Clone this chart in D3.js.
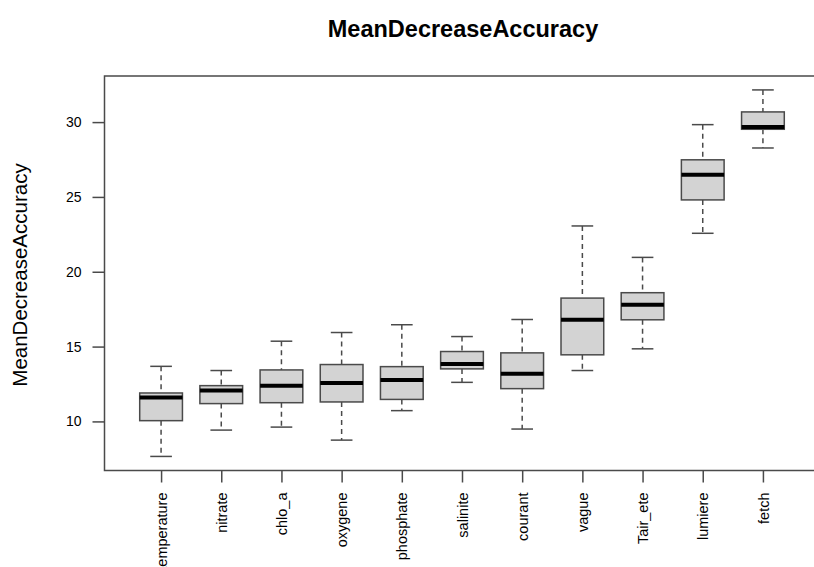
<!DOCTYPE html>
<html>
<head>
<meta charset="utf-8">
<script src="https://cdn.jsdelivr.net/npm/d3@7"></script>
<style>
  html, body { margin: 0; padding: 0; background: #fff; }
  svg { display: block; }
  text { font-family: "Liberation Sans", Arial, sans-serif; }
</style>
</head>
<body>
<svg id="chart" width="814" height="567"></svg>
<script>
const categories = ["temperature", "nitrate", "chlo_a", "oxygene", "phosphate", "salinite", "courant", "vague", "Tair_ete", "lumiere", "fetch"];
const whiskerLow  = [7.66, 9.42, 9.62, 8.75, 10.72, 12.61, 9.49, 13.40, 14.85, 22.57, 28.27];
const q1          = [10.05, 11.19, 11.25, 11.30, 11.47, 13.51, 12.19, 14.45, 16.79, 24.80, 29.52];
const medians     = [11.59, 12.06, 12.39, 12.57, 12.77, 13.84, 13.19, 16.79, 17.80, 26.48, 29.67];
const q3          = [11.90, 12.39, 13.44, 13.80, 13.66, 14.67, 14.58, 18.24, 18.60, 27.48, 30.68];
const whiskerHigh = [13.68, 13.40, 15.36, 15.94, 16.46, 15.67, 16.81, 23.06, 20.96, 29.83, 32.15];
const yTicks = [10, 15, 20, 25, 30];
const titleText = "MeanDecreaseAccuracy";
const yLabel = "MeanDecreaseAccuracy";

(function () {
const svg = d3.select("#chart");
const pL = 104.5, pR = 819.5, pT = 76, pB = 470.5;

const x = d3.scaleLinear().domain([0.06, categories.length + 0.94]).range([pL, pR]);
const y = d3.scaleLinear().domain([6.72, 33.08]).range([pB, pT]);

const boxHalf = 0.355, capHalf = 0.18;
const lineCol = "#4a4a4a";

const g = svg.append("g");

const data = categories.map((c, i) => ({
  c, i: i + 1, lo: whiskerLow[i], q1: q1[i], med: medians[i], q3: q3[i], hi: whiskerHigh[i]
}));

const box = g.selectAll("g.box").data(data).enter().append("g").attr("class", "box");

// whiskers (dashed)
box.append("line")
  .attr("x1", d => x(d.i)).attr("x2", d => x(d.i))
  .attr("y1", d => y(d.hi)).attr("y2", d => y(d.q3))
  .attr("stroke", lineCol).attr("stroke-width", 1.5).attr("stroke-dasharray", "5,4");
box.append("line")
  .attr("x1", d => x(d.i)).attr("x2", d => x(d.i))
  .attr("y1", d => y(d.q1)).attr("y2", d => y(d.lo))
  .attr("stroke", lineCol).attr("stroke-width", 1.5).attr("stroke-dasharray", "5,4");
// caps
box.append("line")
  .attr("x1", d => x(d.i - capHalf)).attr("x2", d => x(d.i + capHalf))
  .attr("y1", d => y(d.hi)).attr("y2", d => y(d.hi))
  .attr("stroke", lineCol).attr("stroke-width", 1.5);
box.append("line")
  .attr("x1", d => x(d.i - capHalf)).attr("x2", d => x(d.i + capHalf))
  .attr("y1", d => y(d.lo)).attr("y2", d => y(d.lo))
  .attr("stroke", lineCol).attr("stroke-width", 1.5);
// box
box.append("rect")
  .attr("x", d => x(d.i - boxHalf))
  .attr("width", d => x(d.i + boxHalf) - x(d.i - boxHalf))
  .attr("y", d => y(d.q3))
  .attr("height", d => y(d.q1) - y(d.q3))
  .attr("fill", "#d3d3d3").attr("stroke", lineCol).attr("stroke-width", 1.5);
// median
box.append("line")
  .attr("x1", d => x(d.i - boxHalf)).attr("x2", d => x(d.i + boxHalf))
  .attr("y1", d => y(d.med)).attr("y2", d => y(d.med))
  .attr("stroke", "#000").attr("stroke-width", 4);

// frame
svg.append("rect")
  .attr("x", pL).attr("y", pT)
  .attr("width", pR - pL).attr("height", pB - pT)
  .attr("fill", "none").attr("stroke", lineCol).attr("stroke-width", 1.5);

// y axis
const yAxis = d3.axisLeft(y).tickValues(yTicks).tickSize(12).tickPadding(11).tickFormat(d3.format("d"));
const ya = svg.append("g").attr("transform", `translate(${pL},0)`).call(yAxis);
ya.select(".domain").remove();
ya.selectAll(".tick line").attr("stroke", lineCol).attr("stroke-width", 1.5);
ya.selectAll(".tick text").attr("font-size", 14).attr("fill", "#000")
  .attr("font-family", "Liberation Sans, Arial, sans-serif");

// x axis
const xAxis = d3.axisBottom(x).tickValues(d3.range(1, categories.length + 1))
  .tickSize(12).tickFormat(d => categories[d - 1]);
const xa = svg.append("g").attr("transform", `translate(0,${pB})`).call(xAxis);
xa.select(".domain").remove();
xa.selectAll(".tick line").attr("stroke", lineCol).attr("stroke-width", 1.5);
xa.selectAll(".tick text")
  .attr("font-size", 14.5).attr("fill", "#000")
  .attr("font-family", "Liberation Sans, Arial, sans-serif")
  .attr("transform", "rotate(-90)")
  .attr("x", -22).attr("y", 0).attr("dy", "0.35em")
  .attr("text-anchor", "end");

// title
svg.append("text")
  .attr("x", 463).attr("y", 37)
  .attr("text-anchor", "middle")
  .attr("font-size", 23.5).attr("font-weight", "bold").attr("fill", "#000")
  .text(titleText);

// y label
svg.append("text")
  .attr("transform", `translate(26.5,275) rotate(-90)`)
  .attr("text-anchor", "middle")
  .attr("font-size", 20.5).attr("fill", "#000")
  .text(yLabel);
})();
</script>
</body>
</html>
